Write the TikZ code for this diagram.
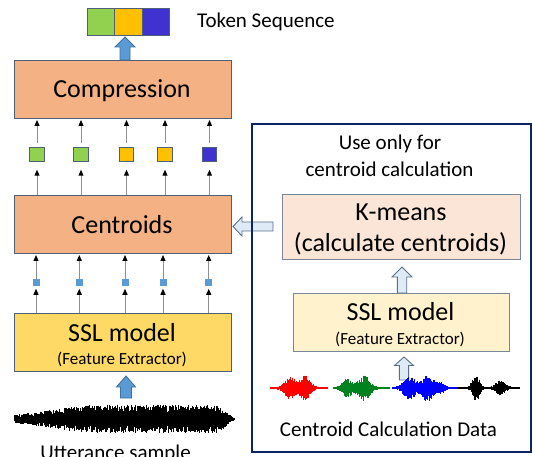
\documentclass[tikz,border=0pt]{standalone}
\usepackage{fontspec}
\setmainfont{Carlito}
\usetikzlibrary{calc,arrows.meta}
\definecolor{orangebox}{HTML}{F4B183}
\definecolor{yellowbox}{HTML}{FFD966}
\definecolor{lightorange}{HTML}{FBE5D6}
\definecolor{lightyellow}{HTML}{FFF2CC}
\definecolor{tokgreen}{HTML}{92D050}
\definecolor{tokgold}{HTML}{FFC000}
\definecolor{tokblue}{HTML}{4032D0}
\definecolor{boxline}{HTML}{4E6079}
\definecolor{boxlineR}{HTML}{7A8699}
\definecolor{arrowblue}{HTML}{5B9BD5}
\definecolor{arrowblueline}{HTML}{41719C}
\definecolor{lightblue}{HTML}{DEEBF7}
\definecolor{hollowline}{HTML}{5A6F89}
\definecolor{arrowgray}{HTML}{8F8F8F}
\definecolor{navy}{HTML}{0A2466}
\definecolor{wred}{HTML}{FF0000}
\definecolor{wgreen}{HTML}{00821E}
\definecolor{wblue}{HTML}{0000FF}

\pgfmathdeclarefunction{gb}{3}{%
  \begingroup
  \pgfmathparse{exp(-min(9,((#1-#2)/#3)*((#1-#2)/#3)))}%
  \pgfmathsmuggle\pgfmathresult
  \endgroup}

% #1 x0, #2 length, #3 y centre, #4 colour, #5 steps, #6 envelope in \wt
\newcommand\wavedraw[6]{%
  \foreach \i in {0,...,#5}{%
    \pgfmathsetmacro\wt{\i/#5}%
    \pgfmathsetmacro\wx{#1+#2*\wt}%
    \pgfmathsetmacro\wa{(#6)*(0.45+0.55*rnd)}%
    \pgfmathsetmacro\wb{(#6)*(0.45+0.55*rnd)}%
    \draw[#4, line width=0.7pt] (\wx,#3-\wa) -- (\wx,#3+\wb);
  }}

% #1 style, #2 start, #3 tip, #4 shaft half width, #5 head half width, #6 head length
\newcommand\blkarrow[6]{%
  \coordinate (bas) at #2;
  \coordinate (bat) at #3;
  \coordinate (bah) at ($(bat)!#6!(bas)$);
  \draw[#1] ($(bas)!#4!90:(bat)$) -- ($(bah)!#4!90:(bat)$) -- ($(bah)!#5!90:(bat)$)
    -- (bat) -- ($(bah)!#5!-90:(bat)$) -- ($(bah)!#4!-90:(bat)$) -- ($(bas)!#4!-90:(bat)$) -- cycle;}

\tikzset{
  box/.style={draw=boxline, line width=0.9pt, inner sep=0pt, outer sep=0pt},
  t26/.style={font=\fontsize{26}{30}\selectfont, inner sep=0pt, anchor=base},
  t21/.style={font=\fontsize{21}{25}\selectfont, inner sep=0pt, anchor=base},
  t17/.style={font=\fontsize{17}{20}\selectfont, inner sep=0pt, anchor=base},
  sq/.style={draw=boxline, line width=0.8pt, minimum size=14.5pt, inner sep=0pt, outer sep=0pt},
  bsq/.style={fill=arrowblue, minimum size=7pt, inner sep=0pt, outer sep=0pt},
  tinyarrow/.style={draw=arrowgray, line width=1pt, -{Triangle[width=5pt,length=6pt,color=black]}},
  solidblk/.style={fill=arrowblue, draw=arrowblueline, line width=0.9pt, line join=miter},
  hollowblk/.style={fill=lightblue, draw=hollowline, line width=0.9pt, line join=miter},
}

\begin{document}
\begin{tikzpicture}[x=1pt,y=-1pt]
\useasboundingbox (0,0) rectangle (533,457);
\pgfmathsetseed{4711}

% token sequence
\node[box, fill=tokgreen, minimum width=27.7pt, minimum height=27pt] (tokG) at (101,21.5) {};
\node[box, fill=tokgold, minimum width=27.7pt, minimum height=27pt] (tokY) at (128.5,21.5) {};
\node[box, fill=tokblue, minimum width=27.7pt, minimum height=27pt] (tokB) at (156,21.5) {};
\node[t21, anchor=base west] (toktxt) at (197,28) {Token Sequence};

% left boxes
\node[box, fill=orangebox, minimum width=217pt, minimum height=58pt] (comp) at (122.5,89) {};
\node[t26] (comptxt) at (122,98) {Compression};
\node[box, fill=orangebox, minimum width=217pt, minimum height=58pt] (cent) at (122.5,224) {};
\node[t26] (centtxt) at (122,234) {Centroids};
\node[box, fill=yellowbox, minimum width=217pt, minimum height=58pt] (sslL) at (122.5,342) {};
\node[t26] (sslLa) at (122,341.5) {SSL model};
\node[t17] (sslLb) at (122,364) {(Feature Extractor)};

% token squares between centroids and compression
\node[sq, fill=tokgreen] (q1) at (37,154.5) {};
\node[sq, fill=tokgreen] (q2) at (81,154.5) {};
\node[sq, fill=tokgold] (q3) at (126.5,154.5) {};
\node[sq, fill=tokgold] (q4) at (165,154.5) {};
\node[sq, fill=tokblue] (q5) at (209.5,154.5) {};
\foreach \q in {q1,q2,q3,q4,q5}{
  \draw[tinyarrow, shorten <=4pt, shorten >=2pt] (\q.north) -- (\q.north |- comp.south);
  \draw[tinyarrow, shorten >=8pt] (\q.south |- cent.north) -- (\q.south);
}

% feature squares between SSL and centroids
\node[bsq] (p1) at (36,282.3) {};
\node[bsq] (p2) at (79.3,282.3) {};
\node[bsq] (p3) at (125,282.3) {};
\node[bsq] (p4) at (163,282.3) {};
\node[bsq] (p5) at (208.7,282.3) {};
\foreach \p in {p1,p2,p3,p4,p5}{
  \draw[tinyarrow, shorten >=2pt] (\p.north) -- (\p.north |- cent.south);
  \draw[tinyarrow, shorten >=3pt] (\p.south |- sslL.north) -- (\p.south);
}

% utterance waveform
\coordinate (uwave) at (124,419);
\wavedraw{14}{220}{419}{black}{440}{1+(3+10*min(1,3*\wt))*min(1,(1-\wt)*14)}
\node[t21] (utt) at (115.5,459) {Utterance sample};

% solid blue block arrows
\blkarrow{solidblk}{($(comp.north)+(2.5,0)$)}{($(tokY.south)+(-3.5,2)$)}{5pt}{10pt}{10pt}
\blkarrow{solidblk}{($(uwave)+(2,-21)$)}{($(sslL.south)+(3.5,5)$)}{5.5pt}{9.5pt}{11pt}

% right part
\node[t21] (use1) at (390,150) {Use only for};
\node[t21] (use2) at (389.5,176.5) {centroid calculation};
\node[box, draw=boxlineR, fill=lightorange, minimum width=238pt, minimum height=65pt] (kmeans) at (401,226.5) {};
\node[t26] (kma) at (401,221) {K-means};
\node[t26] (kmb) at (400.5,252) {(calculate centroids)};
\node[box, draw=boxlineR, fill=lightyellow, minimum width=216pt, minimum height=58pt] (sslR) at (401,322) {};
\node[t26] (sslRa) at (400.5,320) {SSL model};
\node[t17] (sslRb) at (400,344) {(Feature Extractor)};

\blkarrow{hollowblk}{($(sslR.north)+(1,0)$)}{($(kmeans.south)+(1,8)$)}{4.7pt}{10pt}{10pt}
\coordinate (cwave) at (404,388);
\blkarrow{hollowblk}{($(cwave)+(0,-8)$)}{($(sslR.south)+(3,6)$)}{4.6pt}{9.5pt}{8.5pt}

% centroid calculation data waveforms
\wavedraw{270}{57}{388}{wred}{114}{1.2+11*gb(\wt,0.36,0.13)+12*gb(\wt,0.62,0.11)}
\wavedraw{333}{56}{388}{wgreen}{112}{1.2+9*gb(\wt,0.25,0.11)+12.5*gb(\wt,0.55,0.13)}
\wavedraw{392}{65}{388}{wblue}{130}{1.2+11*gb(\wt,0.27,0.12)+12.5*gb(\wt,0.55,0.12)+4*gb(\wt,0.75,0.08)}
\wavedraw{458}{61}{388}{black}{122}{1.0+12.5*gb(\wt,0.29,0.08)+6.5*gb(\wt,0.69,0.11)}
\node[t21] (ccd) at (388.5,436) {Centroid Calculation Data};

% arrow from k-means area to centroids
\blkarrow{hollowblk}{($(cent.east)+(42,2.5)$)}{($(cent.east)+(2,2.5)$)}{4.5pt}{9.5pt}{9pt}

% outer frame
\node[draw=navy, line width=2.8pt, minimum width=279pt, minimum height=328pt, inner sep=0pt, outer sep=0pt] (outer) at (391.5,288) {};
\end{tikzpicture}
\end{document}
